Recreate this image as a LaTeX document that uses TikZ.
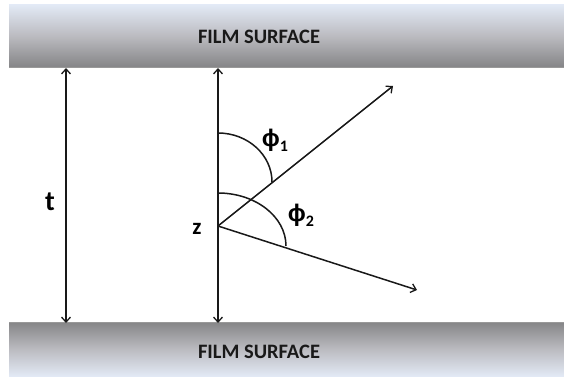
\documentclass[tikz,border=0pt]{standalone}
\usepackage{fontspec}
\setmainfont{Carlito}
\newfontfamily\phifont{Liberation Sans}
\usetikzlibrary{arrows.meta}
\definecolor{bandlight}{HTML}{E2E9F5}
\definecolor{banddark}{HTML}{858587}
\definecolor{bandmid}{HTML}{BBBBC0}
\newcommand{\phisub}[1]{{\phifont\bfseries\fontsize{24}{24}\selectfont ϕ}\raisebox{-5pt}{\bfseries\fontsize{16}{16}\selectfont #1}}
\tikzset{
  band/.style={draw=none},
  bandtext/.style={font=\bfseries\fontsize{20.5}{22}\selectfont, text=black!90},
  lbl/.style={font=\bfseries\fontsize{28}{30}\selectfont, inner sep=0pt},
  zlbl/.style={font=\bfseries\fontsize{23}{24}\selectfont, inner sep=0pt},
  ang/.style={inner sep=0pt},
  ln/.style={line width=1.5pt, draw=black!90},
  >={Straight Barb[length=5pt,width=9pt,line width=1.3pt]}
}
\begin{document}
\begin{tikzpicture}[x=1pt,y=-1pt]
\useasboundingbox (0,0) rectangle (564,385);
\fill[white] (0,0) rectangle (564,385);
% top band
\shade[band, top color=bandlight, bottom color=banddark, middle color=bandmid] (9,5) rectangle (564,67);
\draw[black!40, line width=0.6pt] (9,67) -- (564,67);
% bottom band
\shade[band, top color=banddark, bottom color=bandlight, middle color=bandmid] (9,322) rectangle (564,376);
\draw[black!40, line width=0.6pt] (9,322) -- (564,322);
\node[bandtext] (topt) at (259,37) {FILM SURFACE};
\node[bandtext] (bott) at (259,352) {FILM SURFACE};
% points
\coordinate (ta) at (66,68);
\coordinate (tb) at (66,323);
\coordinate (va) at (218,68);
\coordinate (vb) at (218,323);
\coordinate (z) at (218,226);
\coordinate (r1) at (393,86);
\coordinate (r2) at (417,290);
\draw[ln,<->] (ta) -- (tb);
\draw[ln,<->] (va) -- (vb);
\draw[ln,->] (z) -- (r1);
\draw[ln,->] (z) -- (r2);
% arcs
\draw[ln] (218,133) arc[start angle=270, end angle=360, x radius=54, y radius=49];
\draw[ln] (218,193) arc[start angle=270, end angle=360, x radius=68, y radius=53];
% labels
\node[lbl] (tl) at (50,202) {t};
\node[zlbl] (zl) at (197,229) {z};
\node[ang] (p1) at (275,140) {\phisub{1}};
\node[ang] (p2) at (301,215) {\phisub{2}};
\end{tikzpicture}
\end{document}
